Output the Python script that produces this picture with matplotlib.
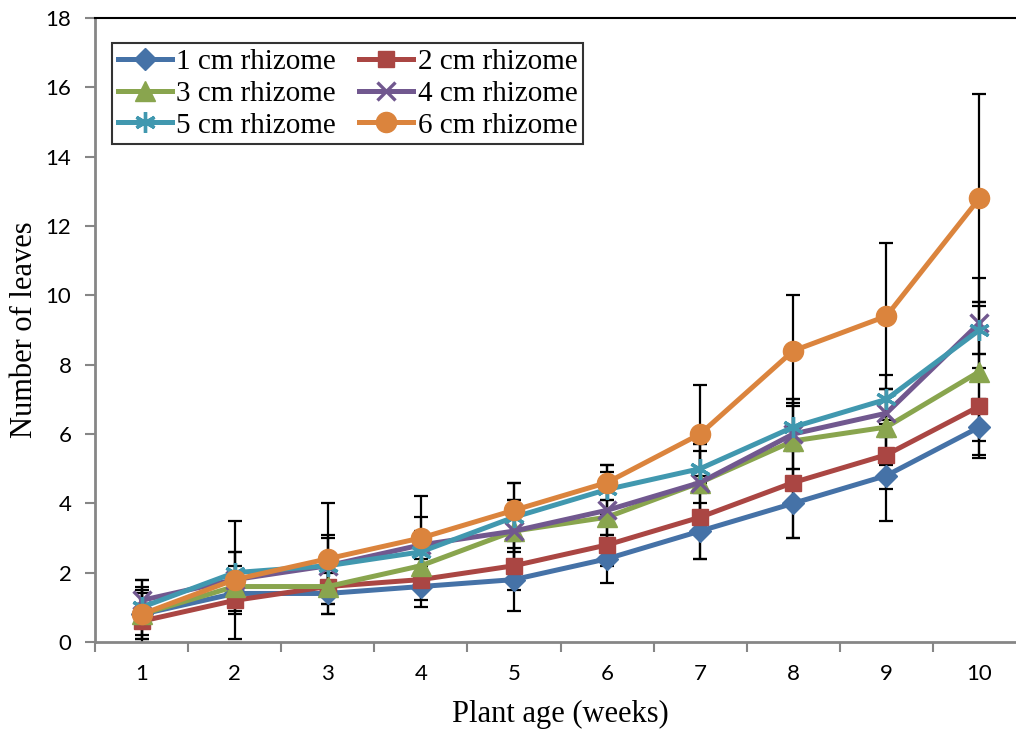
import numpy as np
import matplotlib.pyplot as plt

plt.rcParams['font.family'] = ['Liberation Serif', 'DejaVu Serif']

weeks = [1, 2, 3, 4, 5, 6, 7, 8, 9, 10]
series_names = ['1 cm rhizome', '2 cm rhizome', '3 cm rhizome',
                '4 cm rhizome', '5 cm rhizome', '6 cm rhizome']

leaves_1cm = [0.8, 1.4, 1.4, 1.6, 1.8, 2.4, 3.2, 4.0, 4.8, 6.2]
leaves_2cm = [0.6, 1.2, 1.6, 1.8, 2.2, 2.8, 3.6, 4.6, 5.4, 6.8]
leaves_3cm = [0.8, 1.6, 1.6, 2.2, 3.2, 3.6, 4.6, 5.8, 6.2, 7.8]
leaves_4cm = [1.2, 1.8, 2.2, 2.8, 3.2, 3.8, 4.6, 6.0, 6.6, 9.2]
leaves_5cm = [1.0, 2.0, 2.2, 2.6, 3.6, 4.4, 5.0, 6.2, 7.0, 9.0]
leaves_6cm = [0.8, 1.8, 2.4, 3.0, 3.8, 4.6, 6.0, 8.4, 9.4, 12.8]

sd_1cm = [0.7, 0.5, 0.6, 0.6, 0.9, 0.7, 0.8, 1.0, 1.3, 0.8]
sd_2cm = [0.5, 0.4, 0.5, 0.6, 0.7, 0.6, 1.2, 1.6, 1.0, 1.5]
sd_3cm = [0.6, 0.6, 0.5, 0.6, 0.9, 0.5, 1.1, 1.2, 1.1, 2.0]
sd_4cm = [0.6, 0.8, 0.9, 0.8, 0.9, 1.1, 0.9, 1.0, 0.7, 1.3]
sd_5cm = [0.6, 0.6, 0.8, 0.6, 1.0, 0.7, 0.7, 0.7, 0.7, 0.7]
sd_6cm = [1.0, 1.7, 1.6, 1.2, 0.8, 0.5, 1.4, 1.6, 2.1, 3.0]

values = [leaves_1cm, leaves_2cm, leaves_3cm, leaves_4cm, leaves_5cm, leaves_6cm]
errors = [sd_1cm, sd_2cm, sd_3cm, sd_4cm, sd_5cm, sd_6cm]

colors = ['#4572A7', '#AA4643', '#89A54E', '#71588F', '#4198AF', '#DB843D']
markers = ['D', 's', '^', 'x', (6, 2, 0), 'o']
msizes = [11, 12, 14, 13, 15, 14.5]

fig = plt.figure(figsize=(10.16, 7.32), dpi=100)
# plot area runs past the right edge of the canvas
ax = fig.add_axes([95 / 1016, 90 / 732, 931 / 1016, 624 / 732])

for y, err in zip(values, errors):
    ax.errorbar(weeks, y, yerr=err, fmt='none', ecolor='black', elinewidth=1.6,
                capsize=5, capthick=1.6, zorder=2)

handles = []
for name, y, c, m, ms in zip(series_names, values, colors, markers, msizes):
    mew = 2.4 if m in ('x', (6, 2, 0)) else 1
    ln, = ax.plot(weeks, y, color=c, lw=3.6, marker=m, markersize=ms,
                  markeredgecolor=c, markerfacecolor=c, markeredgewidth=mew,
                  label=name, zorder=3)
    handles.append(ln)

ax.set_xlim(0.5, 10.5)
ax.set_ylim(0, 18)
ax.set_yticks(np.arange(0, 19, 2))
ax.set_xticks(weeks)
ax.set_xticks(np.arange(0.5, 11, 1), minor=True)
for lab in ax.get_xticklabels() + ax.get_yticklabels():
    lab.set_family('Lato')
ax.tick_params(axis='x', which='major', length=0, pad=16, labelsize=16)
ax.tick_params(axis='x', which='minor', length=7, width=1.5, color='#868686')
ax.tick_params(axis='y', length=7, width=1.5, color='#868686', labelsize=16, pad=10)

ax.spines['right'].set_visible(False)
ax.spines['top'].set_color('black')
ax.spines['top'].set_linewidth(1.5)
for side in ['left', 'bottom']:
    ax.spines[side].set_color('#868686')
    ax.spines[side].set_linewidth(2)

ax.set_xlabel('Plant age (weeks)', fontsize=22, labelpad=11)
ax.set_ylabel('Number of leaves', fontsize=22, labelpad=5)

order = [0, 2, 4, 1, 3, 5]
leg = ax.legend([handles[i] for i in order], [series_names[i] for i in order],
                ncol=2, loc='upper left', bbox_to_anchor=(0.0183, 0.960),
                fontsize=21, frameon=True, fancybox=False, edgecolor='black',
                handlelength=1.85, handletextpad=0.15, columnspacing=0.8,
                labelspacing=0.18, borderpad=0.2, borderaxespad=0)
leg.get_frame().set_linewidth(1.5)

fig.savefig('out.png', dpi=100)
